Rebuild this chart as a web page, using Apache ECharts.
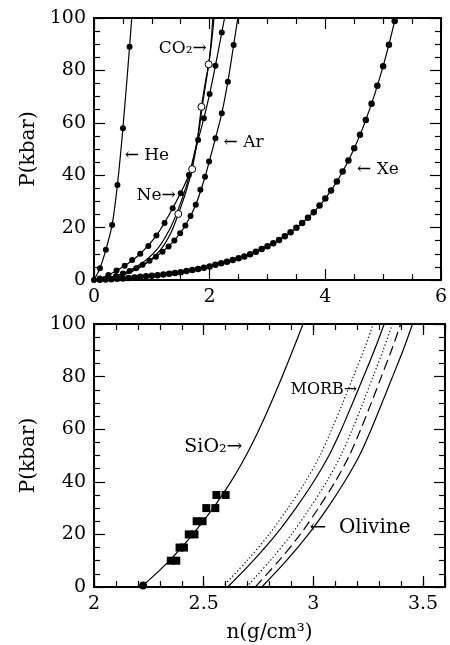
<!DOCTYPE html>
<html>
<head>
<meta charset="utf-8">
<script src="https://cdn.jsdelivr.net/npm/echarts@6/dist/echarts.min.js"></script>
<style>
  html, body { margin: 0; background: #fff; }
  #chart { width: 450px; height: 645px; }
</style>
</head>
<body>
<div id="chart"></div>
<script>
// ---- top panel: P(kbar) vs n(g/cm3) for rare gases and CO2 ----
var heDots = [[0, 0], [0.103, 4.5], [0.205, 11.5], [0.313, 21], [0.405, 36.3], [0.5, 57.9], [0.615, 89]];
var heCurve = [[0, 0], [0.103, 4.5], [0.205, 11.5], [0.313, 21], [0.405, 36.3], [0.5, 57.9], [0.615, 89], [0.652, 100]];

var neDots = [[0.1, 0.6], [0.25, 1.9], [0.39, 3.6], [0.53, 5.4], [0.66, 7.6], [0.8, 10], [0.94, 13], [1.08, 17],
  [1.22, 21.8], [1.36, 27.4], [1.5, 33.1], [1.64, 40.1], [1.8, 53.4], [1.9, 61.7], [2.0, 71], [2.1, 81.8], [2.21, 94.5]];
var neCurve = [[0, 0], [0.25, 1.9], [0.53, 5.4], [0.8, 10], [1.08, 17], [1.36, 27.4], [1.64, 40.1], [1.8, 53.4],
  [1.9, 61.7], [2.0, 71], [2.1, 81.8], [2.21, 94.5], [2.258, 100]];

var arDots = [[0.1, 0.3], [0.24, 0.8], [0.38, 1.5], [0.5, 2.5], [0.615, 3.4], [0.73, 4.5], [0.84, 5.8], [0.96, 7.3],
  [1.07, 8.9], [1.185, 10.8], [1.29, 12.8], [1.39, 15.1], [1.49, 17.8], [1.58, 20.8], [1.67, 24.4], [1.76, 28.7],
  [1.84, 34.4], [1.92, 39.4], [1.99, 45.2], [2.1, 54.1], [2.21, 63.6], [2.315, 75.7], [2.415, 89.7]];
var arCurve = [[0, 0], [0.24, 0.8], [0.5, 2.5], [0.73, 4.5], [0.96, 7.3], [1.185, 10.8], [1.39, 15.1], [1.58, 20.8],
  [1.76, 28.7], [1.92, 39.4], [2.1, 54.1], [2.21, 63.6], [2.315, 75.7], [2.415, 89.7], [2.487, 100]];

var co2Circles = [[1.458, 25.2], [1.697, 42.3], [1.858, 66.1], [1.983, 82.3]];
var co2CurveA = [[0, 0], [0.45, 1.5], [0.85, 5.5], [1.15, 11.5], [1.33, 18], [1.458, 25.2], [1.58, 33], [1.697, 42.3],
  [1.79, 54], [1.858, 66.1], [1.93, 76], [1.983, 82.3], [2.025, 91], [2.055, 100]];
var co2CurveB = [[0, 0], [0.4, 1.6], [0.8, 6], [1.1, 12], [1.3, 19], [1.44, 26], [1.6, 36], [1.68, 43], [1.8, 55],
  [1.87, 66], [1.94, 76], [1.995, 84], [2.04, 92], [2.075, 100]];

var xeN = [0.1, 0.2, 0.3, 0.4, 0.5, 0.6, 0.7, 0.8, 0.9, 1.0, 1.1, 1.2, 1.3, 1.4, 1.5, 1.6, 1.7, 1.8, 1.9, 2.0,
  2.1, 2.2, 2.3, 2.4, 2.5, 2.6, 2.7, 2.8, 2.9, 3.0, 3.1, 3.2, 3.3, 3.4, 3.5, 3.6, 3.7, 3.8, 3.9, 4.0,
  4.1, 4.2, 4.3, 4.4, 4.5, 4.6, 4.7, 4.8, 4.9, 5.0, 5.1, 5.2];
var xeP = [0.1, 0.2, 0.3, 0.45, 0.6, 0.8, 1.0, 1.2, 1.4, 1.6, 1.8, 2.1, 2.4, 2.7, 3.0, 3.4, 3.8, 4.2, 4.7, 5.2,
  5.8, 6.4, 7.0, 7.6, 8.3, 9.0, 9.8, 10.8, 11.8, 12.9, 14.0, 15.3, 16.7, 18.2, 19.9, 21.8, 23.8, 25.9, 28.4, 31.1,
  34.2, 37.6, 41.4, 45.6, 50.3, 55.4, 61.1, 67.3, 74.1, 81.6, 89.8, 98.9];
var xeEnd = [5.21, 100];

// ---- bottom panel: SiO2 glass, MORB, olivine ----
var sio2Squares = [[2.35, 10], [2.375, 10], [2.39, 15], [2.41, 15], [2.432, 20], [2.458, 20],
  [2.468, 25], [2.495, 25], [2.512, 30], [2.553, 30], [2.558, 35], [2.6, 35]];
var sio2Zero = [[2.224, 0.6]];
var sio2Curve = [[2.224, 0.6], [2.3, 6.4], [2.36, 11.4], [2.43, 18], [2.5, 25.2], [2.56, 32], [2.62, 39.5],
  [2.67, 46.5], [2.72, 54.3], [2.77, 63], [2.82, 72.5], [2.87, 82.5], [2.92, 93], [2.953, 100]];

var pGrid = [0, 10, 20, 30, 40, 50, 60, 70, 80, 90, 100];
var morbDotA = [2.585, 2.697, 2.798, 2.884, 2.963, 3.03, 3.084, 3.134, 3.182, 3.23, 3.273];
var morbSolid = [2.61, 2.726, 2.83, 2.92, 3.001, 3.071, 3.128, 3.179, 3.229, 3.278, 3.323];
var morbDotB = [2.695, 2.803, 2.9, 2.984, 3.06, 3.125, 3.178, 3.226, 3.272, 3.318, 3.36];
var olivDash = [2.735, 2.843, 2.94, 3.023, 3.099, 3.164, 3.216, 3.264, 3.31, 3.356, 3.398];
var olivSolid = [2.765, 2.877, 2.977, 3.064, 3.142, 3.21, 3.264, 3.313, 3.361, 3.409, 3.452];

var FONT = '"DejaVu Serif", "Liberation Serif", serif';

function pairs(xs, ys) {
  return xs.map(function (x, i) { return [x, ys[i]]; });
}
function across(ns) {
  return ns.map(function (n, i) { return [n, pGrid[i]]; });
}

function axis(o) {
  var base = {
    type: 'value',
    splitLine: { show: false },
    axisLine: { show: true, onZero: false, lineStyle: { color: '#000', width: 2 } },
    axisTick: { show: true, inside: true, length: 11, lineStyle: { color: '#000', width: 1.2 } },
    minorTick: { show: false },
    axisLabel: { show: false },
    nameTextStyle: { color: '#000', fontFamily: FONT, fontSize: 20 }
  };
  for (var k in o) base[k] = o[k];
  return base;
}
var tickLabel = { show: true, color: '#000', fontFamily: FONT, fontSize: 19, margin: 8 };
function minor(n) {
  return { show: true, splitNumber: n, length: 6, lineStyle: { color: '#000', width: 1.2 } };
}

function dots(data, size, xi, yi) {
  return { type: 'scatter', xAxisIndex: xi, yAxisIndex: yi, data: data, symbol: 'circle', symbolSize: size,
    itemStyle: { color: '#000', opacity: 1 }, z: 4, silent: true };
}
function curve(data, type, xi, yi) {
  return { type: 'line', xAxisIndex: xi, yAxisIndex: yi, data: data, symbol: 'none', showSymbol: false,
    smooth: 0.3, lineStyle: { color: '#000', width: 1.2, type: type || 'solid' },
    z: 3, silent: true };
}
function note(text, at, align, size, xi, yi) {
  return { type: 'scatter', xAxisIndex: xi, yAxisIndex: yi, data: [at], symbolSize: 0, silent: true, z: 5,
    itemStyle: { opacity: 1 },
    label: { show: true, position: 'inside', formatter: text, align: align, verticalAlign: 'middle',
      color: '#000', opacity: 1, fontFamily: FONT, fontSize: size } };
}

var chart = echarts.init(document.getElementById('chart'));
chart.setOption({
  animation: false,
  backgroundColor: '#fff',
  grid: [
    { left: 94, top: 18, width: 351, height: 262 },
    { left: 94, top: 324, width: 351, height: 263 }
  ],
  xAxis: [
    axis({ gridIndex: 0, position: 'bottom', min: 0, max: 6, interval: 2, minorTick: minor(4), axisLabel: tickLabel }),
    axis({ gridIndex: 0, position: 'top', min: 0, max: 6, interval: 2, minorTick: minor(4) }),
    axis({ gridIndex: 1, position: 'bottom', min: 2, max: 3.6, interval: 0.1,
      axisTick: { show: true, inside: true, length: 6, lineStyle: { color: '#000', width: 1.2 } } }),
    axis({ gridIndex: 1, position: 'bottom', min: 2, max: 3.6, interval: 0.5,
      axisLabel: Object.assign({}, tickLabel, {
        formatter: function (v) { return Math.abs(v * 2 - Math.round(v * 2)) < 1e-6 ? String(v) : ''; }
      }),
      name: 'n(g/cm³)', nameLocation: 'middle', nameGap: 36 }),
    axis({ gridIndex: 1, position: 'top', min: 2, max: 3.6, interval: 0.1,
      axisTick: { show: true, inside: true, length: 6, lineStyle: { color: '#000', width: 1.2 } } }),
    axis({ gridIndex: 1, position: 'top', min: 2, max: 3.6, interval: 0.5 })
  ],
  yAxis: [
    axis({ gridIndex: 0, position: 'left', min: 0, max: 100, interval: 20, minorTick: minor(4), axisLabel: tickLabel,
      name: 'P(kbar)', nameLocation: 'middle', nameGap: 52 }),
    axis({ gridIndex: 0, position: 'right', min: 0, max: 100, interval: 20, minorTick: minor(4) }),
    axis({ gridIndex: 1, position: 'left', min: 0, max: 100, interval: 20, minorTick: minor(4), axisLabel: tickLabel,
      name: 'P(kbar)', nameLocation: 'middle', nameGap: 52 }),
    axis({ gridIndex: 1, position: 'right', min: 0, max: 100, interval: 20, minorTick: minor(4) })
  ],
  series: [
    // top panel
    curve(heCurve, 'solid', 0, 0),
    curve(neCurve, 'solid', 0, 0),
    curve(arCurve, 'solid', 0, 0),
    curve(co2CurveA, 'solid', 0, 0),
    curve(co2CurveB, 'solid', 0, 0),
    curve([[0, 0]].concat(pairs(xeN, xeP), [xeEnd]), 'solid', 0, 0),
    dots(heDots, 6, 0, 0),
    dots(neDots, 6, 0, 0),
    dots(arDots, 6, 0, 0),
    dots(pairs(xeN, xeP), 6.5, 0, 0),
    { type: 'scatter', xAxisIndex: 0, yAxisIndex: 0, data: co2Circles, symbol: 'circle', symbolSize: 7,
      itemStyle: { color: '#fff', borderColor: '#000', borderWidth: 1, opacity: 1 }, z: 4, silent: true },
    note('← He', [0.53, 47.3], 'left', 17, 0, 0),
    note('Ne→', [1.414, 32.4], 'right', 17, 0, 0),
    note('CO₂→', [1.949, 88.5], 'right', 17, 0, 0),
    note('← Ar', [2.24, 52.3], 'left', 17, 0, 0),
    note('← Xe', [4.55, 42], 'left', 17, 0, 0),
    // bottom panel
    curve(sio2Curve, 'solid', 3, 2),
    curve(across(morbDotA), [1.2, 2.4], 3, 2),
    curve(across(morbSolid), 'solid', 3, 2),
    curve(across(morbDotB), [1.2, 2.4], 3, 2),
    curve(across(olivDash), [10, 5], 3, 2),
    curve(across(olivSolid), 'solid', 3, 2),
    { type: 'scatter', xAxisIndex: 3, yAxisIndex: 2, data: sio2Squares, symbol: 'rect', symbolSize: 8,
      itemStyle: { color: '#000', opacity: 1 }, z: 4, silent: true },
    dots(sio2Zero, 8, 3, 2),
    note('SiO₂→', [2.677, 53.2], 'right', 19, 3, 2),
    note('MORB→', [3.2, 74.9], 'right', 16, 3, 2),
    note('←  Olivine', [2.982, 22.5], 'left', 20, 3, 2)
  ]
});
</script>
</body>
</html>
